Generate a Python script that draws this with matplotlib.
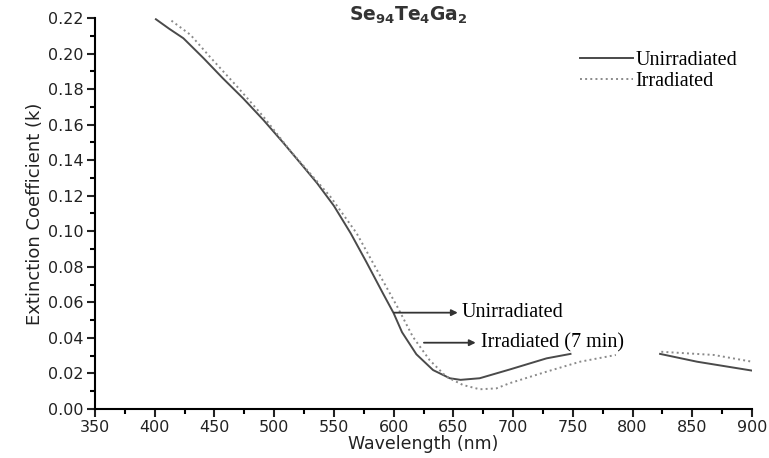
import numpy as np
import matplotlib
matplotlib.use('Agg')
import matplotlib.pyplot as plt
from matplotlib.ticker import MultipleLocator, FormatStrFormatter

# wavelength (nm) and extinction coefficient
wl_unirr = [401, 412, 424, 441, 457, 474, 491, 508, 522, 536, 550, 564, 577, 591,
            600, 607, 619, 633, 647, 656, 672, 697, 728, 748, 760, 810, 823, 854, 900]
k_unirr = [0.2193, 0.2140, 0.2086, 0.1973, 0.1861, 0.1748, 0.1626, 0.1495, 0.1383,
           0.1270, 0.1143, 0.0989, 0.0829, 0.0651, 0.0539, 0.0432, 0.0308, 0.0219,
           0.0173, 0.0164, 0.0173, 0.0222, 0.0285, 0.0310, np.nan, np.nan,
           0.0310, 0.0266, 0.0216]

wl_irr = [414, 430, 446, 469, 491, 513, 530, 547, 561, 569, 586, 603, 616, 630,
          644, 658, 672, 686, 697, 728, 756, 786, 795, 815, 824, 868, 900]
k_irr = [0.2185, 0.2105, 0.1983, 0.1814, 0.1645, 0.1457, 0.1326, 0.1195, 0.1064,
         0.0989, 0.0782, 0.0576, 0.0407, 0.0276, 0.0182, 0.0135, 0.0111, 0.0116,
         0.0145, 0.0210, 0.0266, 0.0304, np.nan, np.nan, 0.0322, 0.0304, 0.0266]

plt.rcParams['mathtext.fontset'] = 'dejavusans'

fig = plt.figure(figsize=(7.69, 4.58), dpi=100)
ax = fig.add_axes([0.1235, 0.107, 0.8545, 0.8537])

ax.plot(wl_unirr, k_unirr, '-', color='#4a4a4a', lw=1.4, label='Unirradiated')
ax.plot(wl_irr, k_irr, ':', color='#8a8a8a', lw=1.4, label='Irradiated')

ax.set_xlim(350, 900)
ax.set_ylim(0, 0.22)
ax.xaxis.set_major_locator(MultipleLocator(50))
ax.xaxis.set_minor_locator(MultipleLocator(25))
ax.yaxis.set_major_locator(MultipleLocator(0.02))
ax.yaxis.set_minor_locator(MultipleLocator(0.01))
ax.yaxis.set_major_formatter(FormatStrFormatter('%.2f'))

for s in ['top', 'right']:
    ax.spines[s].set_visible(False)
for s in ['left', 'bottom']:
    ax.spines[s].set_linewidth(1.5)
ax.tick_params(which='major', direction='out', length=6, width=1.5,
               labelsize=11.5, pad=2, colors='#222222')
ax.tick_params(which='minor', direction='out', length=3.5, width=1.5)
for lbl in ax.get_xticklabels() + ax.get_yticklabels():
    lbl.set_fontfamily('DejaVu Sans')

ax.set_xlabel('Wavelength (nm)', fontfamily='DejaVu Sans', fontsize=12.5,
              labelpad=0, color='#222222')
ax.set_ylabel('Extinction Coefficient (k)', fontfamily='DejaVu Sans',
              fontsize=13, labelpad=3, color='#222222')

fig.text(0.531, 0.966, r'$\mathbf{Se_{94}Te_{4}Ga_{2}}$', ha='center', va='center',
         fontsize=13.5, color='#333333')

ax.legend(loc='upper left', bbox_to_anchor=(0.738, 0.917), frameon=False,
          borderaxespad=0, borderpad=0,
          handlelength=2.65, handletextpad=0.1, labelspacing=0.1,
          prop={'family': 'Liberation Serif', 'size': 14.5})

# arrows pointing to the curves
ax.annotate('', xy=(656, 0.0542), xytext=(598, 0.0542),
            arrowprops=dict(arrowstyle='-|>', color='#333333', lw=1.3, mutation_scale=9))
ax.text(657, 0.0542, 'Unirradiated', va='center', ha='left',
        fontfamily='Liberation Serif', fontsize=14.5)
ax.annotate('', xy=(671, 0.0373), xytext=(623, 0.0373),
            arrowprops=dict(arrowstyle='-|>', color='#333333', lw=1.3, mutation_scale=9))
ax.text(673, 0.0373, 'Irradiated (7 min)', va='center', ha='left',
        fontfamily='Liberation Serif', fontsize=14.5)

fig.savefig('out.png', dpi=100)
